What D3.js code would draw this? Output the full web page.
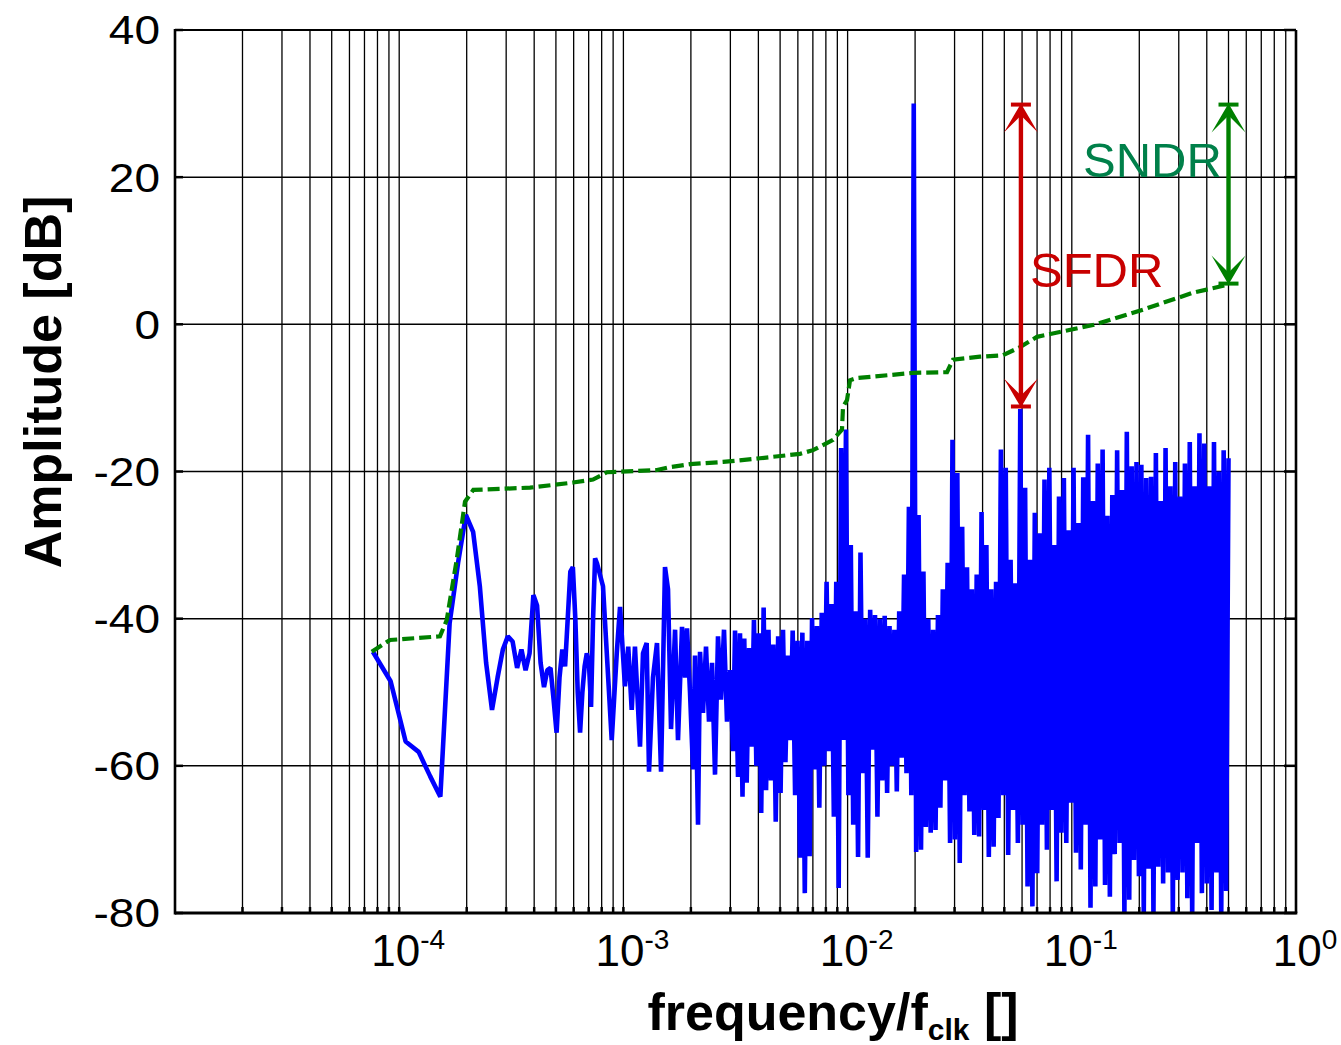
<!DOCTYPE html>
<html>
<head>
<meta charset="utf-8">
<script src="https://cdn.jsdelivr.net/npm/d3@7"></script>
<style>
  body { margin: 0; background: #fff; }
  svg { display: block; }
</style>
</head>
<body>
<div id="chart"></div>
<script>
const WIDTH = 1341
const HEIGHT = 1045
const LEFT = 175, RIGHT = 1296, TOP = 30, BOTTOM = 913
const FONT = '"Liberation Sans", Arial, Helvetica, sans-serif'
const BLUE = '#0000ff'
const GREEN = '#008000'
const RED = '#c80000'
const TEAL = '#00804a'

// axis ticks
const yTicks = [40, 20, 0, -20, -40, -60, -80]
const xDecades = [1e-4, 1e-3, 1e-2, 1e-1, 1]
const xExponents = ['-4', '-3', '-2', '-1', '0']

// spectrum, first bins of a 65536 point FFT (bin 5 .. 50)
const FFT_LENGTH = 65536
const FIRST_BIN = 5
const lowDb = [
  -44.5, -48.5, -56.7, -58.1, -61.4, -64.2, -40.6, -32.4, -25.9, -28.2,
  -35.6, -46, -52.4, -48, -44.2, -42.4, -43.1, -46.7, -44.2, -47,
  -44.7, -36.8, -38.2, -46, -49.3, -47, -46.7, -51, -55.5, -48,
  -44.2, -46.5, -40, -33.6, -33, -40, -50, -55.5, -50, -46.5,
  -44.7, -46, -52, -40, -31.8, -32.5
]

// spectrum, middle part read point by point
const midFreq = [
  8.11e-4, 8.87e-4, 9.34e-4, 9.66e-4, 1.016e-3, 1.051e-3, 1.089e-3, 1.126e-3, 1.186e-3, 1.223e-3,
  1.27e-3, 1.301e-3, 1.355e-3, 1.412e-3, 1.472e-3, 1.533e-3, 1.581e-3, 1.631e-3, 1.7e-3, 1.752e-3,
  1.826e-3, 1.883e-3, 1.922e-3, 1.982e-3, 2.044e-3, 2.087e-3, 2.152e-3, 2.197e-3, 2.265e-3, 2.336e-3,
  2.409e-3, 2.485e-3, 2.562e-3, 2.642e-3, 2.725e-3, 2.81e-3, 2.898e-3, 2.989e-3, 3.082e-3, 3.147e-3,
  3.245e-3, 3.312e-3, 3.398e-3
]
const midDb = [
  -35.6, -56.5, -44.7, -38.4, -49.2, -43.8, -52.4, -43.8, -57.4, -44.7,
  -43.3, -60.8, -48, -43.3, -60.8, -33, -36, -55, -41.5, -56.5,
  -41.1, -48, -41.3, -50, -60.5, -45, -68, -44.5, -52.8, -43.8,
  -54, -46, -61.2, -42.4, -51, -41.5, -54, -47, -58, -41.6,
  -61.5, -42, -64.2
]

// spectrum, dense part: upper and lower tips, alternating along the log axis
const DENSE_START = 3.46e-3
const DENSE_END = 0.5
const denseHi = [
  -42.7, -44, -40.2, -42, -38.5, -41.5, -43.5, -42.4, -41.5, -45,
  -41.6, -43, -41.9, -43, -39.9, -41, -39.2, -35, -38, -35,
  -16.8, -14.3, -30, -39, -31, -40, -38.8, -39.5, -40, -39.6,
  -41, -41.5, -39, -34, -24.8, 30, -25.9, -33.6, -40, -41.5,
  -39.5, -36, -32.4, -15.7, -20.2, -27.5, -33, -36, -34, -25.5,
  -30, -36, -35, -17, -19.5, -32, -35.2, -11.5, -22.2, -32,
  -25.6, -28.4, -21.1, -19.5, -30, -23.4, -20.9, -28, -19.5, -27,
  -20.8, -15, -24, -18.9, -17, -26, -23.2, -17.1, -22.5, -14.6,
  -19.3, -18.7, -19.1, -20.9, -20.7, -17.5, -24, -16.8, -22, -18.7,
  -23.4, -18.9, -16, -22, -14.8, -16.2, -22, -16, -20, -17.1,
  -18.2
]
const denseLo = [
  -62.3, -57.4, -60, -66.4, -63.3, -62, -67.6, -63.7, -59.5, -56.5,
  -64, -72.5, -77.3, -72.3, -60.5, -65.7, -60, -58, -66.9, -76.6,
  -56.5, -64, -68, -72.4, -61, -72.5, -57.8, -66.9, -62, -63.7,
  -60, -63.5, -58.9, -61, -64, -71.7, -71.4, -68.3, -69.1, -68.7,
  -65.7, -62, -70.5, -70, -73.2, -64, -66.2, -69.4, -69.6, -66,
  -72.4, -71, -67.1, -64, -72.1, -66, -70.5, -68, -76.4, -79.1,
  -74.6, -68, -71.4, -66, -75.7, -69.1, -70.5, -65, -71.8, -74.1,
  -68, -79.3, -76.4, -70, -76.2, -77.8, -72, -70.5, -80.5, -78.2,
  -72.8, -75, -80.5, -74, -80.5, -73.7, -76, -74.5, -80.5, -75.5,
  -74.5, -78, -80.5, -70.5, -77.3, -76, -79.6, -74.5, -80.5, -77
]

// cumulative SNDR curve (green dashed)
const sndrFreq = [
  7.54e-5, 9.1e-5, 1.52e-4, 1.629e-4, 1.805e-4, 1.966e-4, 2.141e-4, 3.833e-4, 5.96e-4, 7.317e-4,
  8.45e-4, 1.412e-3, 1.614e-3, 1.982e-3, 2.781e-3, 4.067e-3, 6.133e-3, 7.012e-3, 8.61e-3, 9.44e-3,
  9.54e-3, 9.94e-3, 1.025e-2, 1.101e-2, 1.957e-2, 2.776e-2, 2.952e-2, 3.896e-2, 4.932e-2, 5.875e-2,
  6.996e-2, 0.1243, 0.2078, 0.3472, 0.5
]
const sndrDb = [
  -44.5, -42.9, -42.4, -40.2, -32, -24.1, -22.5, -22.2, -21.5, -21.1,
  -20.1, -19.8, -19.4, -19, -18.7, -18.2, -17.6, -17.1, -15.7, -14.3,
  -11.2, -10.3, -7.6, -7.3, -6.6, -6.5, -4.8, -4.4, -4.2, -3.1,
  -1.7, -0.1, 2, 4.3, 5.4
]

// SFDR / SNDR arrows
const arrowNames = ['SFDR', 'SNDR']
const arrowFreq = [0.0593, 0.5]
const arrowTop = [30, 30]
const arrowBottom = [-11.3, 5.4]

const svg = d3.select('#chart').append('svg')
  .attr('width', WIDTH)
  .attr('height', HEIGHT)
  .style('font-family', FONT)

const x = d3.scaleLog().domain([1e-5, 1]).range([LEFT, RIGHT])
const y = d3.scaleLinear().domain([-80, 40]).range([BOTTOM, TOP])

svg.append('defs').append('clipPath').attr('id', 'plot-clip')
  .append('rect')
  .attr('x', LEFT).attr('y', TOP)
  .attr('width', RIGHT - LEFT).attr('height', BOTTOM - TOP)

// grid
const minorTicks = x.ticks().filter(d => d > 1e-5 && d < 1)
svg.append('g').selectAll('line').data(minorTicks).join('line')
  .attr('x1', d => x(d)).attr('x2', d => x(d))
  .attr('y1', TOP).attr('y2', BOTTOM)
  .attr('stroke', '#000').attr('stroke-width', 1.3)
svg.append('g').selectAll('line').data(yTicks.filter(d => d > -80 && d < 40)).join('line')
  .attr('x1', LEFT).attr('x2', RIGHT)
  .attr('y1', d => y(d)).attr('y2', d => y(d))
  .attr('stroke', '#000').attr('stroke-width', 1.5)

// spectrum points
const spectrum = []
lowDb.forEach((v, i) => spectrum.push([(FIRST_BIN + i) / FFT_LENGTH, v]))
midFreq.forEach((f, i) => spectrum.push([f, midDb[i]]))
const denseSteps = denseHi.length + denseLo.length - 1
for (let i = 0; i <= denseSteps; i++) {
  const f = DENSE_START * Math.pow(DENSE_END / DENSE_START, i / denseSteps)
  const v = i % 2 === 0 ? denseHi[i / 2] : denseLo[(i - 1) / 2]
  spectrum.push([f, v])
}

const line = d3.line().x(d => x(d[0])).y(d => y(d[1]))

const plot = svg.append('g').attr('clip-path', 'url(#plot-clip)')
plot.append('path')
  .datum(spectrum)
  .attr('fill', 'none')
  .attr('stroke', BLUE)
  .attr('stroke-width', 4.6)
  .attr('stroke-linejoin', 'bevel')
  .attr('d', line)

plot.append('path')
  .datum(sndrFreq.map((f, i) => [f, sndrDb[i]]))
  .attr('fill', 'none')
  .attr('stroke', GREEN)
  .attr('stroke-width', 4.2)
  .attr('stroke-dasharray', '12,5')
  .attr('d', line)

// arrows
const arrowColors = [RED, GREEN]
const head = 'M0,0 L-17,29 L0,12 L17,29 Z'
arrowNames.forEach((name, i) => {
  const ax = x(arrowFreq[i])
  const yt = y(arrowTop[i])
  const yb = y(arrowBottom[i])
  const g = svg.append('g').attr('fill', arrowColors[i])
  g.append('line')
    .attr('x1', ax).attr('x2', ax)
    .attr('y1', yt + 6).attr('y2', yb - 6)
    .attr('stroke', arrowColors[i]).attr('stroke-width', 4.4)
  g.append('path').attr('d', head).attr('transform', `translate(${ax},${yt})`)
  g.append('path').attr('d', head).attr('transform', `translate(${ax},${yb}) scale(1,-1)`)
  g.append('rect').attr('x', ax - 10).attr('y', yt - 1).attr('width', 20).attr('height', 4)
  g.append('rect').attr('x', ax - 10).attr('y', yb - 3).attr('width', 20).attr('height', 4)
})

svg.append('text')
  .attr('x', x(0.0651)).attr('y', y(5.1))
  .attr('font-size', 49).attr('fill', RED)
  .text('SFDR')
svg.append('text')
  .attr('x', x(0.1122)).attr('y', y(20))
  .attr('font-size', 49).attr('fill', TEAL)
  .text('SNDR')

// frame and tick marks
const frame = svg.append('g').attr('stroke', '#000').attr('fill', 'none')
frame.append('line').attr('x1', LEFT).attr('x2', RIGHT).attr('y1', TOP).attr('y2', TOP).attr('stroke-width', 2)
frame.append('line').attr('x1', RIGHT).attr('x2', RIGHT).attr('y1', TOP).attr('y2', BOTTOM).attr('stroke-width', 2.6)
frame.append('line').attr('x1', LEFT).attr('x2', LEFT).attr('y1', TOP - 1).attr('y2', BOTTOM + 1.5).attr('stroke-width', 2.6)
frame.append('line').attr('x1', LEFT).attr('x2', RIGHT + 1.3).attr('y1', BOTTOM).attr('y2', BOTTOM).attr('stroke-width', 3)

frame.selectAll('.xt').data(minorTicks).join('line')
  .attr('x1', d => x(d)).attr('x2', d => x(d))
  .attr('y1', BOTTOM).attr('y2', BOTTOM - 6)
  .attr('stroke-width', 2.5)
frame.selectAll('.yr').data(yTicks).join('line')
  .attr('x1', RIGHT).attr('x2', RIGHT - 12)
  .attr('y1', d => y(d)).attr('y2', d => y(d))
  .attr('stroke-width', 2.5)
frame.selectAll('.yl').data(yTicks).join('line')
  .attr('x1', LEFT).attr('x2', LEFT + 8)
  .attr('y1', d => y(d)).attr('y2', d => y(d))
  .attr('stroke-width', 2.5)

// y tick labels (wide face)
svg.append('g').selectAll('text').data(yTicks).join('text')
  .attr('transform', d => `translate(160,${y(d)}) scale(1.15,1)`)
  .attr('dy', '0.36em')
  .attr('text-anchor', 'end')
  .attr('font-size', 40)
  .text(d => d)

// x tick labels 10^n
const xLabels = svg.append('g').selectAll('text').data(xDecades).join('text')
  .attr('x', d => x(d) + 9)
  .attr('y', 966)
  .attr('text-anchor', 'middle')
  .attr('font-size', 44)
xLabels.append('tspan').text('10')
xLabels.append('tspan').attr('dy', -17).attr('font-size', 28).text((d, i) => xExponents[i])

// axis titles
const xTitle = svg.append('text')
  .attr('x', 833).attr('y', 1030)
  .attr('text-anchor', 'middle')
  .attr('font-size', 52).attr('font-weight', 'bold')
xTitle.append('tspan').text('frequency/f')
xTitle.append('tspan').attr('font-size', 30).attr('dy', 10).text('clk')
xTitle.append('tspan').attr('dy', -10).text(' []')

svg.append('text')
  .attr('transform', 'translate(61,382) rotate(-90)')
  .attr('text-anchor', 'middle')
  .attr('font-size', 52).attr('font-weight', 'bold')
  .text('Amplitude [dB]')
</script>
</body>
</html>
